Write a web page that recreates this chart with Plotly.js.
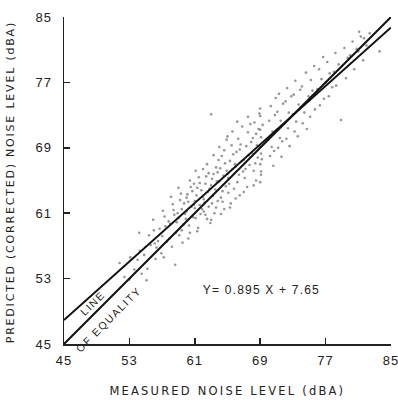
<!DOCTYPE html>
<html>
<head>
<meta charset="utf-8">
<script src="https://cdn.plot.ly/plotly-3.0.1.min.js"></script>
<style>
  html, body { margin: 0; padding: 0; background: #fff; }
  #chart { width: 398px; height: 400px; }
  #chart .xtick text, #chart .ytick text { letter-spacing: 1px; }
  #chart .annotation-text { letter-spacing: 1.2px; }
  #chart .annotation[data-index="0"] .annotation-text { letter-spacing: 2.2px; }
  #chart .annotation[data-index="1"] .annotation-text { letter-spacing: 1.8px; }
  #chart .annotation[data-index="3"] .annotation-text,
  #chart .annotation[data-index="4"] .annotation-text { letter-spacing: 1.6px; }
</style>
</head>
<body>
<div id="chart"></div>
<script>
// Measured vs. predicted (corrected) noise levels, dBA
const measured = [
  51.8, 52.4,
  53.1, 53.0, 53.6,
  54.2, 54.0, 54.5, 54.3,
  55.0, 55.2, 55.4, 54.8, 55.6, 55.1,
  56.0, 56.2, 56.5, 55.9, 56.3, 56.7, 56.1,
  57.0, 57.3, 56.9, 57.4, 57.1, 57.6, 57.2, 57.8,
  58.0, 58.3, 57.9, 58.5, 58.2, 58.6, 58.4, 58.7, 58.1, 58.8,
  59.0, 59.2, 59.1, 59.4, 59.3, 59.6, 58.9, 59.5, 59.7, 59.8, 59.0, 59.4,
  60.0, 60.1, 60.3, 60.2, 59.9, 60.5, 60.4, 60.6, 60.0, 60.8, 60.7, 60.2, 60.9, 60.4,
  61.0, 61.1, 61.3, 61.0, 61.4, 61.2, 61.6, 61.5, 60.9, 61.7, 61.8, 61.3, 61.9, 61.1, 61.6,
  62.0, 62.1, 62.3, 62.2, 62.5, 62.4, 62.0, 62.6, 62.7, 62.8, 62.9, 62.1, 62.5, 62.3, 62.7,
  63.0, 63.1, 63.3, 63.2, 63.4, 63.6, 63.5, 63.0, 63.7, 63.8, 63.9, 63.3, 63.6, 63.1, 63.8, 63.0,
  64.0, 64.2, 64.1, 64.4, 64.3, 64.5, 64.6, 64.7, 64.0, 64.8, 64.9, 64.2, 64.6, 64.4, 64.9,
  65.0, 65.1, 65.3, 65.2, 65.5, 65.4, 65.6, 65.7, 65.0, 65.8, 65.9, 65.3, 65.6, 65.1,
  66.0, 66.2, 66.1, 66.4, 66.3, 66.5, 66.7, 66.6, 66.9, 66.8, 66.0, 66.5, 66.2,
  67.0, 67.1, 67.3, 67.2, 67.5, 67.4, 67.6, 67.8, 67.7, 67.9, 67.0, 67.5,
  68.0, 68.2, 68.1, 68.4, 68.3, 68.5, 68.6, 68.8, 68.7, 68.9, 68.2, 68.5,
  69.0, 69.0, 69.0, 69.1, 69.0, 69.1, 69.0, 69.1, 69.0, 69.2, 69.3, 69.1,
  70.0, 70.2, 70.1, 70.4, 70.3, 70.6, 70.5, 70.8, 70.7, 70.9,
  71.0, 71.2, 71.1, 71.4, 71.3, 71.6, 71.5, 71.8, 71.7,
  72.0, 72.2, 72.1, 72.4, 72.3, 72.6, 72.5, 72.8,
  73.0, 73.2, 73.1, 73.4, 73.3, 73.6, 73.7, 73.9,
  74.0, 74.2, 74.1, 74.4, 74.6, 74.7, 74.9,
  75.0, 75.2, 75.1, 75.4, 75.6, 75.7, 75.9,
  76.0, 76.2, 76.3, 76.5, 76.7, 76.8,
  77.0, 77.2, 77.4, 77.5, 77.8,
  78.0, 78.2, 78.3, 78.6, 78.9,
  79.0, 79.3, 79.5, 79.7,
  80.0, 80.3, 80.5, 80.8,
  81.0, 81.3, 81.6, 81.1,
  82.0, 82.4, 81.7,
  83.6
];
const predicted = [
  54.9, 53.2,
  55.6, 52.9, 54.1,
  58.6, 55.3, 53.6, 56.4,
  56.9, 54.2, 58.3, 55.9, 57.1, 52.8,
  58.9, 55.4, 57.6, 60.2, 56.8, 59.1, 57.3,
  58.2, 60.6, 56.1, 59.4, 61.3, 57.5, 55.6, 60.0,
  59.7, 62.1, 57.9, 60.8, 56.9, 54.7, 61.4, 58.6, 63.0, 59.9,
  60.4, 62.6, 58.3, 61.5, 63.4, 59.6, 61.0, 57.4, 62.2, 60.9, 64.1, 58.9,
  61.2, 63.3, 59.5, 62.4, 60.3, 64.2, 58.6, 61.8, 62.9, 60.5, 63.7, 57.9, 62.0, 65.0,
  62.5, 60.4, 64.1, 61.6, 59.2, 63.2, 62.0, 65.4, 64.6, 60.9, 63.8, 58.8, 61.5, 66.2, 64.7,
  63.0, 61.2, 64.6, 62.3, 60.3, 65.5, 66.4, 63.6, 61.8, 64.0, 59.8, 62.7, 67.0, 60.8, 65.9,
  64.4, 62.2, 65.8, 63.1, 61.0, 66.6, 63.9, 60.2, 64.9, 62.5, 67.5, 68.1, 61.7, 65.2, 66.0, 73.1,
  64.9, 62.9, 66.5, 63.7, 68.0, 65.6, 61.5, 67.1, 69.1, 64.3, 66.2, 60.9, 68.7, 62.4, 70.0,
  65.8, 63.5, 67.4, 64.6, 69.3, 62.2, 66.4, 68.2, 70.4, 64.0, 67.0, 61.7, 71.0, 65.3,
  66.7, 64.8, 68.5, 65.7, 70.1, 63.2, 67.3, 69.4, 66.1, 71.6, 62.8, 68.8, 72.2,
  67.5, 65.3, 69.2, 66.4, 70.9, 64.2, 68.1, 71.9, 66.9, 69.7, 63.6, 72.8,
  68.4, 66.2, 70.2, 67.1, 72.1, 65.0, 69.3, 71.3, 67.8, 73.2, 64.4, 70.7,
  69.1, 67.0, 71.2, 66.1, 72.9, 68.3, 64.8, 70.3, 73.8, 67.6, 71.8, 65.7,
  70.0, 68.0, 72.3, 69.1, 74.1, 66.8, 71.0, 73.0, 68.6, 75.1,
  71.2, 69.0, 73.4, 70.2, 75.6, 67.9, 72.3, 74.4, 69.8,
  72.0, 70.1, 74.7, 71.4, 76.3, 69.2, 73.3, 75.3,
  73.1, 71.0, 75.5, 72.2, 77.2, 70.4, 74.3, 76.1,
  74.0, 72.0, 76.5, 73.3, 78.2, 71.3, 75.3,
  74.8, 77.3, 72.8, 76.0, 79.0, 73.7, 75.6,
  76.2, 78.6, 74.2, 77.4, 80.1, 75.0,
  77.0, 79.5, 75.3, 78.1, 76.4,
  78.3, 80.6, 76.6, 79.2, 72.4,
  79.0, 81.2, 77.5, 80.0,
  80.3, 82.0, 78.6, 81.1,
  80.8, 82.6, 79.7, 83.2,
  81.5, 83.0, 82.4,
  80.8
];

// Axis ticks (dBA)
const tickValues = [45, 53, 61, 69, 77, 85];
const tickLabels = ["45", "53", "61", "69", "77", "85"];

// Reference lines
const lineX = [45, 85];
const equalityY = [45, 85];
const slope = 0.895;
const intercept = 7.65;
const regressionY = lineX.map(x => slope * x + intercept);

const ink = "#222";
const font = "Liberation Sans, Arial, sans-serif";

const traces = [
  {
    x: measured, y: predicted, type: "scatter", mode: "markers",
    marker: { size: 2.6, color: "rgba(105,105,105,0.7)", symbol: "circle" },
    hoverinfo: "skip"
  },
  {
    x: lineX, y: equalityY, type: "scatter", mode: "lines",
    line: { color: "#111", width: 2 }, hoverinfo: "skip"
  },
  {
    x: lineX, y: regressionY, type: "scatter", mode: "lines",
    line: { color: "#111", width: 2 }, hoverinfo: "skip"
  }
];

const axisCommon = {
  range: [45, 85],
  tickmode: "array",
  tickvals: tickValues,
  ticktext: tickLabels,
  ticks: "inside",
  ticklen: 6,
  tickwidth: 1.5,
  tickcolor: ink,
  showline: true,
  linecolor: ink,
  linewidth: 1.5,
  showgrid: false,
  zeroline: false,
  fixedrange: true,
  ticklabeloverflow: "allow",
  tickfont: { family: font, size: 13, color: ink }
};

const layout = {
  width: 398,
  height: 400,
  margin: { l: 64, r: 7, t: 17, b: 56 },
  paper_bgcolor: "#fff",
  plot_bgcolor: "#fff",
  showlegend: false,
  xaxis: Object.assign({}, axisCommon, { tickangle: 0, automargin: false, ticklabelstandoff: 4 }),
  yaxis: Object.assign({}, axisCommon, { ticklabelstandoff: 8, automargin: false }),
  annotations: [
    {
      text: "MEASURED NOISE LEVEL (dBA)",
      xref: "paper", yref: "paper", x: 0.50, y: -0.143,
      xanchor: "center", yanchor: "middle", showarrow: false,
      font: { family: "DejaVu Sans, sans-serif", size: 11.5, color: ink }
    },
    {
      text: "PREDICTED (CORRECTED) NOISE LEVEL (dBA)",
      xref: "paper", yref: "paper", x: -0.165, y: 0.495,
      xanchor: "center", yanchor: "middle", textangle: -90, showarrow: false,
      font: { family: "DejaVu Sans, sans-serif", size: 11, color: ink }
    },
    {
      text: "Y= 0.895 X + 7.65",
      xref: "x", yref: "y", x: 69.1, y: 51.6,
      xanchor: "center", yanchor: "middle", showarrow: false,
      font: { family: font, size: 12, color: ink }
    },
    {
      text: "LINE",
      xref: "x", yref: "y", x: 48.5, y: 50.0,
      xanchor: "center", yanchor: "middle", textangle: -45, showarrow: false,
      font: { family: font, size: 10.5, color: ink }
    },
    {
      text: "OF EQUALITY",
      xref: "x", yref: "y", x: 50.5, y: 48.0,
      xanchor: "center", yanchor: "middle", textangle: -45, showarrow: false,
      font: { family: font, size: 10.5, color: ink }
    }
  ]
};

Plotly.newPlot("chart", traces, layout, { staticPlot: true, displayModeBar: false });
</script>
</body>
</html>
